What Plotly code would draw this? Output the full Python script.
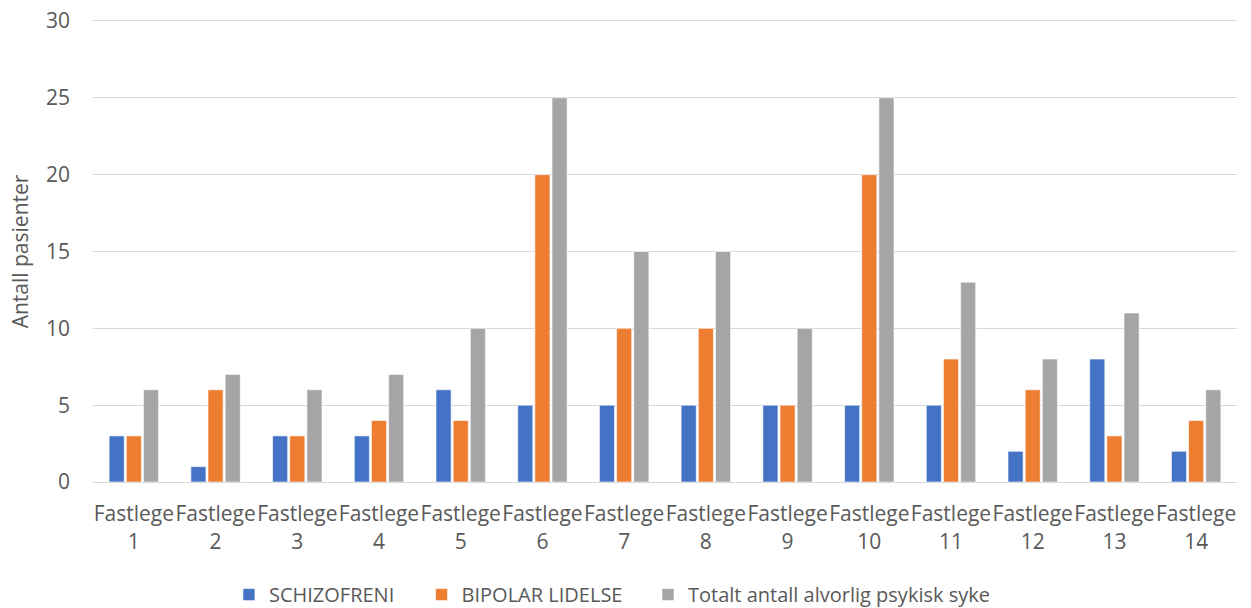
import plotly.graph_objects as go

categories = [f"Fastlege<br>{i}" for i in range(1, 15)]
schizofreni = [3, 1, 3, 3, 6, 5, 5, 5, 5, 5, 5, 2, 8, 2]
bipolar = [3, 6, 3, 4, 4, 20, 10, 10, 5, 20, 8, 6, 3, 4]
totalt = [6, 7, 6, 7, 10, 25, 15, 15, 10, 25, 13, 8, 11, 6]

series = [
    ("SCHIZOFRENI", schizofreni, "#4472C4", "legend", 0.183),
    ("BIPOLAR LIDELSE", bipolar, "#ED7D31", "legend2", 0.337),
    ("Totalt antall alvorlig psykisk syke", totalt, "#A5A5A5", "legend3", 0.518),
]

font_family = "Open Sans"
text_color = "#595959"
grid_color = "#D9D9D9"

fig = go.Figure()
legend_layouts = {}
for name, values, color, legend_id, legend_x in series:
    fig.add_trace(go.Bar(
        x=categories, y=values, name=name, legend=legend_id, showlegend=True,
        marker=dict(color=color, line=dict(color="white", width=0.6)),
    ))
    legend_layouts[legend_id] = dict(
        orientation="h", xref="container", x=legend_x, xanchor="left",
        yref="container", y=0.022, yanchor="middle", visible=True,
        font=dict(size=20, color=text_color), itemwidth=30,
        bgcolor="rgba(0,0,0,0)",
    )

fig.update_layout(
    width=1251, height=608,
    showlegend=True,
    barmode="group", bargap=0.37, bargroupgap=0.12,
    plot_bgcolor="white", paper_bgcolor="white",
    margin=dict(l=93, r=14, t=21, b=126),
    font=dict(family=font_family, size=21, color=text_color),
    yaxis=dict(
        range=[0, 30], dtick=5, showgrid=True, gridcolor=grid_color, gridwidth=1.3,
        zeroline=False, ticklabelstandoff=22, automargin=False,
        title=dict(text="Antall pasienter", font=dict(size=21, color=text_color), standoff=11),
        tickfont=dict(size=21, color=text_color),
    ),
    xaxis=dict(
        showline=True, linecolor=grid_color, linewidth=1.3, mirror=True,
        tickfont=dict(size=21, color=text_color), ticklabelstandoff=13,
        tickangle=0, automargin=False,
    ),
    **legend_layouts,
)

fig.write_html("out.html")
